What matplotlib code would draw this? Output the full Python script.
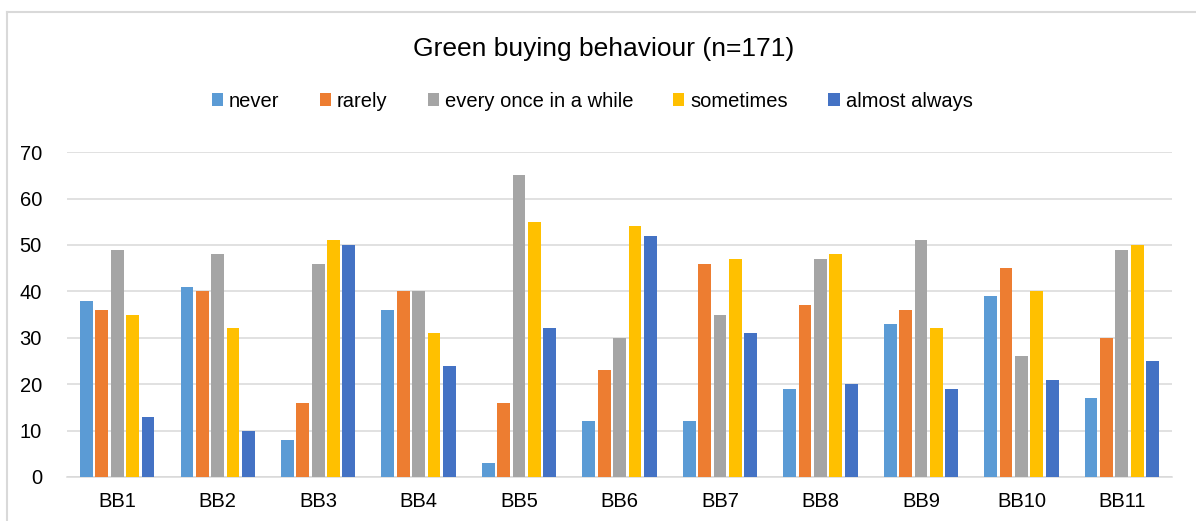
import numpy as np
import matplotlib.pyplot as plt
from matplotlib.lines import Line2D
from matplotlib.patches import Patch

plt.rcParams["font.family"] = ["Liberation Sans", "DejaVu Sans"]

# -----------------------------------------------------
# Data: answers per item (n=171)
# -----------------------------------------------------
items = ["BB1", "BB2", "BB3", "BB4", "BB5", "BB6",
         "BB7", "BB8", "BB9", "BB10", "BB11"]
answers = ["never", "rarely", "every once in a while",
           "sometimes", "almost always"]

never = [38, 41, 8, 36, 3, 12, 12, 19, 33, 39, 17]
rarely = [36, 40, 16, 40, 16, 23, 46, 37, 36, 45, 30]
once_in_a_while = [49, 48, 46, 40, 65, 30, 35, 47, 51, 26, 49]
sometimes = [35, 32, 51, 31, 55, 54, 47, 48, 32, 40, 50]
almost_always = [13, 10, 50, 24, 32, 52, 31, 20, 19, 21, 25]

series = [never, rarely, once_in_a_while, sometimes, almost_always]
colors = ["#5B9BD5", "#ED7D31", "#A5A5A5", "#FFC000", "#4472C4"]

# -----------------------------------------------------
# Plot
# -----------------------------------------------------
fig = plt.figure(figsize=(11.96, 5.21), dpi=100)
ax = fig.add_axes([0.056, 0.0845, 0.924, 0.6235])

x = np.arange(len(items))
slot = 0.153
bar_w = 0.127
for i, (vals, col) in enumerate(zip(series, colors)):
    ax.bar(x + (i - 2) * slot, vals, bar_w, color=col, zorder=3)

ax.set_xlim(-0.5, len(items) - 0.5)
ax.set_ylim(0, 70)
ax.set_yticks(range(0, 71, 10))
ax.set_xticks(x)
ax.set_xticklabels(items)
ax.yaxis.grid(True, color="#D9D9D9", linewidth=1.1)
ax.set_axisbelow(True)
ax.tick_params(axis="both", length=0, labelsize=14.5, colors="#000000")
ax.tick_params(axis="y", pad=18)
ax.tick_params(axis="x", pad=11)
for side in ["top", "right", "left"]:
    ax.spines[side].set_visible(False)
ax.spines["bottom"].set_color("#D9D9D9")
ax.spines["bottom"].set_linewidth(1.1)

fig.text(0.5045, 0.905, "Green buying behaviour (n=171)",
         ha="center", va="center", fontsize=19, color="#000000")

handles = [Patch(facecolor=c, edgecolor="none") for c in colors]
fig.legend(handles, answers, loc="center", bbox_to_anchor=(0.495, 0.806),
           ncol=5, frameon=False, fontsize=14.5, handlelength=0.55,
           handleheight=0.55, handletextpad=0.3, columnspacing=2.0)

# chart border
fig.add_artist(Line2D([7 / 1196, 7 / 1196], [0, 1 - 12 / 521],
                      transform=fig.transFigure, color="#D9D9D9", lw=1.5))
fig.add_artist(Line2D([7 / 1196, 1], [1 - 12 / 521, 1 - 12 / 521],
                      transform=fig.transFigure, color="#D9D9D9", lw=1.5))

fig.savefig("out.png", dpi=100)
